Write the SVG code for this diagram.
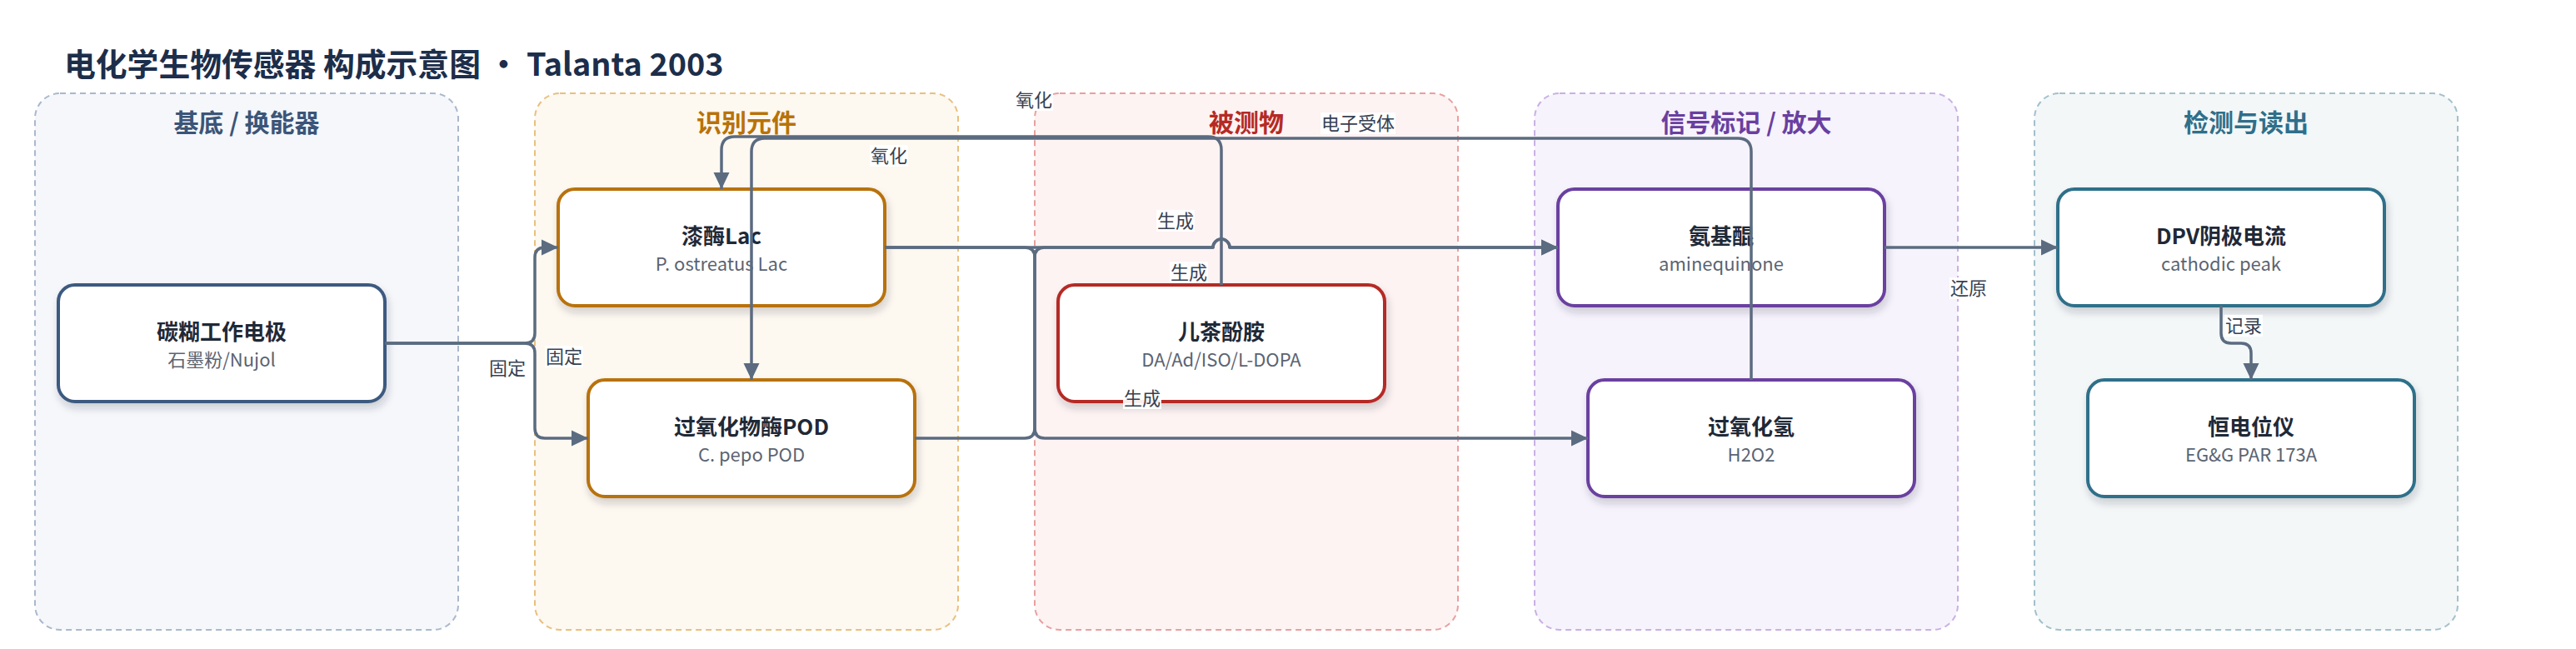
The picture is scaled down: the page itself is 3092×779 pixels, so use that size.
<svg xmlns="http://www.w3.org/2000/svg" width="3092" height="779" viewBox="0 0 3092 779">
<style>
text{font-family:"Noto Sans CJK SC","Noto Sans",sans-serif}
.grp{stroke-width:2;stroke-dasharray:7 5}
.gt{font-size:30px;font-weight:700;text-anchor:middle}
.nb{fill:#fff;stroke-width:4;filter:url(#sh)}
.nt{font-size:26px;font-weight:700;fill:#1f2937;text-anchor:middle}
.ns{font-size:22px;fill:#5b6472;text-anchor:middle}
.edge{fill:none;stroke:#5b6b80;stroke-width:3.5;stroke-linejoin:round}
.arr{marker-end:url(#ah)}
.lb rect{fill:#fff;fill-opacity:0.92}
.lb text{font-size:22px;fill:#374151;text-anchor:middle}
</style>
<defs>
<filter id="sh" x="-10%" y="-15%" width="125%" height="140%">
<feDropShadow dx="2" dy="6" stdDeviation="5" flood-color="#1e293b" flood-opacity="0.2"/>
</filter>
<marker id="ah" viewBox="0 0 20 20" markerUnits="userSpaceOnUse" markerWidth="20" markerHeight="20" refX="20" refY="10" orient="auto">
<path d="M0,0.5 L20,10 L0,19.5 Z" fill="#5b6b80"/>
</marker>
</defs>
<rect width="3092" height="779" fill="#fff"/>
<text x="77" y="91" font-size="37.8" font-weight="700" fill="#1c2e4a">电化学生物传感器 构成示意图 · Talanta 2003</text>

<g id="groups">
<g id="g-substrate"><rect class="grp" x="42" y="112" width="508" height="644" rx="30" fill="#f5f7fb" stroke="#aab8cc"/><text class="gt" x="296" y="158" fill="#3b5578">基底 / 换能器</text></g>
<g id="g-recognition"><rect class="grp" x="642" y="112" width="508" height="644" rx="30" fill="#fdf8f0" stroke="#e8c07e"/><text class="gt" x="896" y="158" fill="#b8720a">识别元件</text></g>
<g id="g-analyte"><rect class="grp" x="1242" y="112" width="508" height="644" rx="30" fill="#fdf3f2" stroke="#e8a0a0"/><text class="gt" x="1496" y="158" fill="#b52a25">被测物</text></g>
<g id="g-signal"><rect class="grp" x="1842" y="112" width="508" height="644" rx="30" fill="#f6f3fc" stroke="#c9b0e3"/><text class="gt" x="2096" y="158" fill="#6a3fa0">信号标记 / 放大</text></g>
<g id="g-readout"><rect class="grp" x="2442" y="112" width="508" height="644" rx="30" fill="#f3f7f8" stroke="#a2c0cc"/><text class="gt" x="2696" y="158" fill="#2f6f8a">检测与读出</text></g>
</g>

<g id="n-electrode"><rect class="nb" x="70" y="342" width="392" height="140" rx="20" stroke="#3d5a80"/><text class="nt" x="266" y="408">碳糊工作电极</text><text class="ns" x="266" y="440">石墨粉/Nujol</text></g>
<g id="n-lac"><rect class="nb" x="670" y="227" width="392" height="140" rx="20" stroke="#b8720a"/><text class="nt" x="866" y="293">漆酶Lac</text><text class="ns" x="866" y="325">P. ostreatus Lac</text></g>
<g id="n-pod"><rect class="nb" x="706" y="456" width="392" height="140" rx="20" stroke="#b8720a"/><text class="nt" x="902" y="522">过氧化物酶POD</text><text class="ns" x="902" y="554">C. pepo POD</text></g>
<g id="n-catechol"><rect class="nb" x="1270" y="342" width="392" height="140" rx="20" stroke="#b52a25"/><text class="nt" x="1466" y="408">儿茶酚胺</text><text class="ns" x="1466" y="440">DA/Ad/ISO/L-DOPA</text></g>
<g id="n-aminoquinone"><rect class="nb" x="1870" y="227" width="392" height="140" rx="20" stroke="#6a3fa0"/><text class="nt" x="2066" y="293">氨基醌</text><text class="ns" x="2066" y="325">aminequinone</text></g>
<g id="n-h2o2"><rect class="nb" x="1906" y="456" width="392" height="140" rx="20" stroke="#6a3fa0"/><text class="nt" x="2102" y="522">过氧化氢</text><text class="ns" x="2102" y="554">H2O2</text></g>
<g id="n-dpv"><rect class="nb" x="2470" y="227" width="392" height="140" rx="20" stroke="#2f6f8a"/><text class="nt" x="2666" y="293">DPV阴极电流</text><text class="ns" x="2666" y="325">cathodic peak</text></g>
<g id="n-potentiostat"><rect class="nb" x="2506" y="456" width="392" height="140" rx="20" stroke="#2f6f8a"/><text class="nt" x="2702" y="522">恒电位仪</text><text class="ns" x="2702" y="554">EG&amp;G PAR 173A</text></g>

<g id="connectors">
<path class="edge arr" d="M462,412 H630 Q642,412 642,400 V309 Q642,297 654,297 H670"/>
<path class="edge arr" d="M462,412 H630 Q642,412 642,424 V514 Q642,526 654,526 H706"/>
<path class="edge arr" d="M1466,342 V180 Q1466,164 1450,164 H882 Q866,164 866,180 V227"/>
<path class="edge arr" d="M2102,456 V182 Q2102,166 2086,166 H918 Q902,166 902,182 V456"/>
<path class="edge arr" d="M1062,297 H1456 A10,10 0 0 1 1476,297 H1870"/>
<path class="edge arr" d="M1098,526 H1230 Q1242,526 1242,514 V309 Q1242,297 1254,297 H1456 A10,10 0 0 1 1476,297 H1870"/>
<path class="edge arr" d="M1062,297 H1230 Q1242,297 1242,309 V514 Q1242,526 1254,526 H1906"/>
<path class="edge arr" d="M2262,297 H2470"/>
<path class="edge arr" d="M2666,367 V400 Q2666,412 2678,412 H2690 Q2702,412 2702,424 V456"/>
</g>

<g id="labels">
<g class="lb"><rect x="586" y="429" width="46" height="26"/><text x="609" y="450">固定</text></g>
<g class="lb"><rect x="654" y="415" width="46" height="26"/><text x="677" y="436">固定</text></g>
<g class="lb"><rect x="1044" y="174" width="46" height="26"/><text x="1067" y="195">氧化</text></g>
<g class="lb"><rect x="1218" y="107" width="46" height="26"/><text x="1241" y="128">氧化</text></g>
<g class="lb"><rect x="1585" y="135" width="90" height="26"/><text x="1630" y="156">电子受体</text></g>
<g class="lb"><rect x="1388" y="252" width="46" height="26"/><text x="1411" y="273">生成</text></g>
<g class="lb"><rect x="1404" y="314" width="46" height="26"/><text x="1427" y="335">生成</text></g>
<g class="lb"><rect x="1348" y="465" width="46" height="26"/><text x="1371" y="486">生成</text></g>
<g class="lb"><rect x="2340" y="333" width="46" height="26"/><text x="2363" y="354">还原</text></g>
<g class="lb"><rect x="2670" y="378" width="46" height="26"/><text x="2693" y="399">记录</text></g>
</g>
</svg>
